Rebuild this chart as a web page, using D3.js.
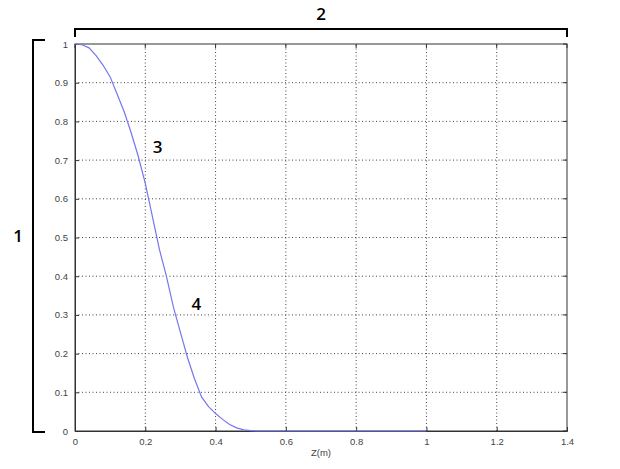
<!DOCTYPE html>
<html><head><meta charset="utf-8">
<script src="https://cdn.jsdelivr.net/npm/d3@7"></script>
<style>body{margin:0;background:#fff}svg{display:block}</style>
</head><body>
<script>
const zValues = [0,0.02,0.04,0.06,0.08,0.10,0.12,0.14,0.16,0.18,0.20,0.22,0.24,0.26,0.28,0.30,0.32,0.34,0.36,0.38,0.40,0.42,0.44,0.46,0.48,0.50,0.52,0.6,0.7,0.8,0.9,1.0];
const fieldValues = [1.0,0.998,0.99,0.97,0.945,0.915,0.87,0.825,0.77,0.71,0.64,0.555,0.47,0.40,0.32,0.255,0.19,0.135,0.088,0.063,0.045,0.03,0.017,0.008,0.003,0.001,0,0,0,0,0,0];
const xTicks = [0,0.2,0.4,0.6,0.8,1,1.2,1.4];
const yTicks = [0,0.1,0.2,0.3,0.4,0.5,0.6,0.7,0.8,0.9,1];
const xLabel = "Z(m)";
const annotations = [{t:"1",x:-0.162,y:0.50},{t:"2",x:0.7,y:1.075},{t:"3",x:0.235,y:0.73},{t:"4",x:0.345,y:0.325}];

const W=620,H=469;
const svg=d3.select("body").append("svg").attr("width",W).attr("height",H);
const x=d3.scaleLinear().domain([0,1.4]).range([75,567]);
const y=d3.scaleLinear().domain([0,1]).range([431,44]);
const font="Arial, 'Liberation Sans', sans-serif";

// grid
svg.append("g").selectAll("line").data(xTicks.slice(1,-1)).join("line")
  .attr("x1",d=>x(d)).attr("x2",d=>x(d)).attr("y1",y(0)).attr("y2",y(1))
  .attr("stroke","#444").attr("stroke-width",1).attr("stroke-dasharray","1,2.5");
svg.append("g").selectAll("line").data(yTicks.slice(1,-1)).join("line")
  .attr("y1",d=>y(d)).attr("y2",d=>y(d)).attr("x1",x(0)).attr("x2",x(1.4))
  .attr("stroke","#444").attr("stroke-width",1).attr("stroke-dasharray","1,2.5");

// axes
const xa=svg.append("g").attr("transform",`translate(0,${y(0)})`)
  .call(d3.axisBottom(x).tickValues(xTicks).tickSize(-4).tickPadding(7).tickFormat(d3.format("")));
const ya=svg.append("g").attr("transform",`translate(${x(0)},0)`)
  .call(d3.axisLeft(y).tickValues(yTicks).tickSize(-4).tickPadding(7).tickFormat(d3.format("")));
[xa,ya].forEach(a=>{a.selectAll("text").attr("font-family",font).attr("font-size",9.5).attr("fill","#444");
  a.selectAll("line,path").attr("stroke","#333");});
// top / right ticks and box
svg.append("g").selectAll("line").data(xTicks).join("line")
  .attr("x1",d=>x(d)).attr("x2",d=>x(d)).attr("y1",y(1)).attr("y2",y(1)+4).attr("stroke","#333");
svg.append("g").selectAll("line").data(yTicks).join("line")
  .attr("y1",d=>y(d)).attr("y2",d=>y(d)).attr("x1",x(1.4)).attr("x2",x(1.4)-4).attr("stroke","#333");
svg.append("rect").attr("x",x(0)).attr("y",y(1)).attr("width",x(1.4)-x(0)).attr("height",y(0)-y(1))
  .attr("fill","none").attr("stroke","#333").attr("stroke-width",1);

// curve
svg.append("path").datum(zValues.map((z,i)=>[z,fieldValues[i]]))
  .attr("d",d3.line().x(d=>x(d[0])).y(d=>y(d[1])))
  .attr("fill","none").attr("stroke","#7676ee").attr("stroke-width",1.2);

// x label
svg.append("text").attr("x",x(0.7)).attr("y",456).attr("text-anchor","middle")
  .attr("font-family",font).attr("font-size",9.5).attr("fill","#444").text(xLabel);

// brackets
svg.append("path").attr("d",`M${x(0)},37V29H${x(1.4)}V37`).attr("fill","none").attr("stroke","#000").attr("stroke-width",2);
svg.append("path").attr("d",`M45,${y(1)-4}H33V${y(0)+1}H45`).attr("fill","none").attr("stroke","#000").attr("stroke-width",2);

// annotations
svg.append("g").selectAll("text").data(annotations).join("text")
  .attr("x",d=>x(d.x)).attr("y",d=>y(d.y)).attr("text-anchor","middle").attr("dominant-baseline","middle")
  .attr("font-family","'Open Sans', sans-serif").attr("font-weight","600").attr("font-size",17).text(d=>d.t);
</script>
</body></html>
